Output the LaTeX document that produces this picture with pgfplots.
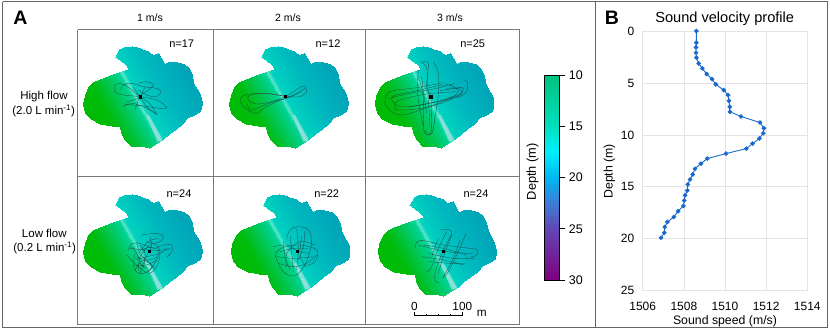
\documentclass[border=0pt]{standalone}
\usepackage{fontspec}
\setmainfont{Liberation Sans}
\usepackage{pgfplots}
\usepackage{pgfplotstable}
\pgfplotsset{compat=1.18}
\definecolor{trk}{RGB}{35,60,60}
\definecolor{framedark}{RGB}{100,100,100}
\definecolor{framegrid}{RGB}{120,120,120}
\definecolor{gridlt}{RGB}{228,228,228}
\pgfplotstableread[row sep=\\]{
x y\\
430 300\\385 208\\400 205\\
430 300\\400 205\\470 205\\
430 300\\470 205\\492 192\\
430 300\\492 192\\505 186\\
430 300\\505 186\\530 186\\
430 300\\530 186\\552 192\\
430 300\\552 192\\566 205\\
430 300\\566 205\\576 225\\
430 300\\576 225\\580 250\\
430 300\\580 250\\590 268\\
430 300\\590 268\\600 285\\
430 300\\600 285\\606 310\\
430 300\\606 310\\601 333\\
430 300\\601 333\\582 344\\
430 300\\582 344\\562 354\\
430 300\\562 354\\547 372\\
430 300\\547 372\\527 386\\
430 300\\527 386\\510 400\\
430 300\\510 400\\490 418\\
430 300\\490 418\\470 428\\
430 300\\470 428\\447 444\\
430 300\\447 444\\420 438\\
430 300\\420 438\\392 438\\
430 300\\392 438\\375 420\\
430 300\\375 420\\364 400\\
430 300\\364 400\\361 378\\
430 300\\361 378\\335 378\\
430 300\\335 378\\300 372\\
430 300\\300 372\\272 358\\
430 300\\272 358\\256 338\\
430 300\\256 338\\250 312\\
430 300\\250 312\\254 285\\
430 300\\254 285\\265 262\\
430 300\\265 262\\280 246\\
430 300\\280 246\\300 236\\
430 300\\300 236\\340 222\\
430 300\\340 222\\385 208\\
420 180\\345 172\\352 160\\
420 180\\352 160\\358 148\\
420 180\\358 148\\372 140\\
420 180\\372 140\\395 138\\
420 180\\395 138\\410 142\\
420 180\\410 142\\425 146\\
420 180\\425 146\\445 152\\
420 180\\445 152\\462 168\\
420 180\\462 168\\475 160\\
420 180\\475 160\\483 175\\
420 180\\483 175\\492 192\\
420 180\\492 192\\470 205\\
420 180\\470 205\\385 205\\
420 180\\385 205\\378 195\\
420 180\\378 195\\362 183\\
420 180\\362 183\\345 172\\
}\blobverts
\pgfplotstableread{
v d
1508.61 0
1508.61 1.13
1508.59 1.58
1508.59 2.09
1508.61 2.57
1508.72 3.12
1508.90 3.6
1509.11 4.15
1509.37 4.63
1509.55 5.14
1509.94 5.69
1510.15 6.17
1510.19 6.72
1510.23 7.3
1510.24 7.78
1510.78 8.23
1511.70 8.81
1511.89 9.36
1511.86 9.84
1511.67 10.35
1511.34 10.84
1511.04 11.32
1510.05 11.8
1509.14 12.28
1508.83 12.77
1508.54 13.26
1508.43 13.81
1508.30 14.29
1508.19 14.77
1508.17 15.35
1508.06 15.81
1508.02 16.32
1507.98 16.84
1507.72 17.35
1507.51 17.9
1507.20 18.39
1507.07 18.87
1507.05 19.42
1506.89 19.9
}\svp
\newcommand{\blob}[2]{\addplot[patch,patch type=triangle,shader=interp,forget plot,
  point meta={0.872*(\thisrow{x}-428)-0.49*(\thisrow{y}-300)}]
  table[x expr=\thisrow{x}+#1,y expr=\thisrow{y}+#2]{\blobverts};
  \addplot[fill={rgb,255:red,205;green,225;blue,238},draw=none,opacity=0.5,no markers,forget plot]
  table[row sep=\\,header=false,x expr=\thisrowno{0}+#1,y expr=\thisrowno{1}+#2]{440 345\\447 345\\488 418\\472 426\\};}
\newcommand{\trk}[3]{\addplot[trk,line width=0.33bp,opacity=0.85,smooth,tension=0.6,no markers,forget plot]
  table[row sep=\\,header=false,x expr=\thisrowno{0}+#1,y expr=\thisrowno{1}+#2]{#3};}
\newcommand{\ctr}[2]{\addplot[only marks,mark=square*,mark size=1.25bp,black,forget plot] coordinates {(#1,#2)};}
\newcommand{\seg}[2]{\addplot[#1,no markers,forget plot] coordinates {#2};}
\begin{document}
\begin{tikzpicture}
\path[use as bounding box] (0,0) rectangle (830bp,330bp);
\begin{axis}[name=main,at={(0,0)},anchor=south west,scale only axis,width=830bp,height=330bp,
  hide axis,clip=false,xmin=0,xmax=2490,ymin=0,ymax=990,y dir=reverse,
  point meta min=-180,point meta max=180,
  colormap={blob}{rgb255(0pt)=(0,186,0); rgb255(70pt)=(0,188,12); rgb255(100pt)=(0,194,55);
    rgb255(144pt)=(0,206,125); rgb255(158pt)=(0,212,155); rgb255(166pt)=(90,230,200);
    rgb255(176pt)=(0,210,192); rgb255(250pt)=(0,183,190); rgb255(330pt)=(0,166,184); rgb255(360pt)=(0,163,182)},
  colormap name=blob]
% maps
\blob{0}{0}
\blob{438}{0}
\blob{875}{0}
\blob{0}{444}
\blob{443}{444}
\blob{883}{444}
% panel 1
\trk{0}{0}{345 255\\360 250\\385 262\\420 290\\450 312\\470 342\\}
\trk{0}{0}{345 255\\345 275\\370 285\\420 290\\470 300\\500 322\\480 325\\430 318\\370 312\\}
\trk{0}{0}{362 270\\370 255\\395 250\\430 260\\470 265\\482 275\\470 290\\440 285\\415 270\\}
\trk{0}{0}{415 250\\440 245\\460 255\\445 270\\420 290\\405 330\\}
\trk{0}{0}{400 262\\420 290\\440 320\\468 342\\}
\trk{0}{0}{370 320\\400 310\\450 330\\472 345\\}
\trk{0}{0}{435 260\\420 290\\400 300\\380 305\\}
\ctr{420}{290}
% panel 2
\trk{0}{0}{920 275\\915 258\\895 265\\860 288\\815 305\\770 312\\745 300\\750 285\\790 280\\830 285\\856 289\\900 290\\920 275\\}
\trk{0}{0}{720 305\\725 290\\750 282\\800 280\\856 289\\}
\trk{0}{0}{722 305\\735 325\\770 340\\790 325\\830 305\\880 285\\915 265\\}
\trk{0}{0}{740 310\\750 330\\770 325\\820 305\\860 295\\905 275\\}
\ctr{856}{289}
% panel 3
\trk{1080}{60}{250 188\\170 203\\100 212\\80 225\\75 250\\95 275\\130 285\\180 270\\260 240\\300 225\\310 205\\295 203\\260 205\\}
\trk{1080}{60}{290 215\\200 222\\120 240\\105 255\\115 270\\200 262\\280 235\\305 215\\290 205\\240 212\\}
\trk{1080}{60}{145 262\\230 245\\290 225\\}
\trk{1080}{60}{105 225\\170 212\\250 195\\280 200\\295 215\\270 235\\180 255\\120 260\\95 240\\105 225\\}
\trk{1080}{60}{310 180\\322 185\\320 215\\290 235\\}
\trk{1080}{60}{190 125\\205 130\\200 200\\212 230\\215 300\\212 340\\195 340\\190 310\\190 230\\175 170\\}
\trk{1080}{60}{220 125\\235 160\\235 220\\225 290\\218 335\\205 345\\195 330\\}
\trk{1080}{60}{175 150\\172 210\\180 270\\190 320\\}
\trk{1080}{60}{180 125\\200 145\\205 230\\210 320\\}
\trk{1080}{60}{185 170\\190 215\\200 280\\}
\trk{1080}{60}{85 235\\150 220\\230 205\\285 190\\}
\ctr{1292}{290}
% panel 4
\trk{0}{510}{385 240\\395 222\\420 220\\460 235\\490 225\\515 225\\515 245\\500 262\\}
\trk{0}{510}{380 255\\410 285\\445 310\\470 290\\480 250\\470 225\\440 215\\}
\trk{0}{510}{405 250\\400 290\\420 310\\450 300\\475 260\\}
\trk{0}{510}{425 195\\470 190\\490 200\\480 215\\450 225\\420 260\\415 300\\}
\trk{0}{510}{450 200\\455 230\\447 243\\430 280\\420 310\\}
\trk{0}{510}{390 235\\440 240\\490 240\\510 235\\}
\trk{0}{510}{405 270\\440 260\\480 250\\500 235\\}
\trk{0}{510}{410 215\\420 250\\450 280\\465 295\\}
\trk{0}{510}{400 285\\440 285\\470 270\\}
\trk{0}{510}{415 250\\445 215\\475 205\\}
\trk{0}{510}{410 260\\440 270\\470 262\\475 240\\450 232\\425 240\\}
\trk{0}{510}{405 300\\430 270\\455 290\\440 305\\}
\trk{0}{510}{395 230\\410 250\\425 285\\445 295\\}
\trk{0}{510}{420 225\\435 250\\430 295\\}
\ctr{447}{753}
% panel 5
\trk{0}{510}{860 205\\870 180\\895 170\\925 180\\935 215\\925 260\\905 300\\880 318\\850 305\\830 270\\828 250\\850 232\\900 225\\950 240\\945 275\\910 290\\}
\trk{0}{510}{820 230\\860 225\\892 243\\930 250\\}
\trk{0}{510}{850 215\\855 260\\870 300\\}
\trk{0}{510}{890 175\\895 240\\890 300\\}
\trk{0}{510}{915 180\\910 230\\895 270\\}
\trk{0}{510}{830 260\\880 265\\940 260\\}
\trk{0}{510}{835 280\\880 290\\920 280\\950 255\\}
\trk{0}{510}{860 290\\860 250\\900 215\\945 225\\}
\trk{0}{510}{870 195\\875 245\\880 305\\}
\trk{0}{510}{840 245\\880 235\\925 235\\}
\trk{0}{510}{905 200\\900 255\\915 285\\}
\ctr{892}{753}
% panel 6
\trk{1080}{510}{165 235\\170 218\\190 212\\250 225\\330 235\\352 240\\350 255\\330 262\\}
\trk{1080}{510}{190 225\\250 235\\320 255\\}
\trk{1080}{510}{185 260\\250 270\\310 285\\}
\trk{1080}{510}{205 250\\280 265\\340 265\\}
\trk{1080}{510}{175 225\\260 245\\335 250\\}
\trk{1080}{510}{205 275\\270 280\\320 282\\}
\trk{1080}{510}{240 180\\260 178\\275 190\\250 240\\225 310\\228 335\\238 338\\}
\trk{1080}{510}{318 190\\295 245\\265 305\\248 325\\}
\trk{1080}{510}{260 185\\235 235\\215 290\\200 305\\}
\trk{1080}{510}{300 210\\280 265\\250 320\\}
\trk{1080}{510}{275 195\\250 260\\235 310\\}
\trk{1080}{510}{235 205\\215 260\\}
\ctr{1330}{753}
% frames
\seg{framedark,line width=1.3bp}{(8,5)(8,982)(2483,982)(2483,5)(8,5)}
\seg{framedark,line width=1.3bp}{(1786,5)(1786,982)}
\seg{framegrid,line width=1bp}{(233,89)(1558,89)(1558,972)(233,972)(233,89)}
\seg{framegrid,line width=1bp}{(641,89)(641,972)}
\seg{framegrid,line width=1bp}{(1097,89)(1097,972)}
\seg{framegrid,line width=1bp}{(233,530)(1558,530)}
% scale bar
\seg{black,line width=0.6bp}{(1243,947)(1387,947)}
\seg{black,line width=0.6bp}{(1243,947)(1243,937)}
\seg{black,line width=0.6bp}{(1280,947)(1280,941)}
\seg{black,line width=0.6bp}{(1315,947)(1315,941)}
\seg{black,line width=0.6bp}{(1352,947)(1352,941)}
\seg{black,line width=0.6bp}{(1387,947)(1387,937)}
% text
\node[font=\fontsize{19.5bp}{20bp}\selectfont\bfseries] at (axis cs:61,52) {A};
\node[font=\fontsize{19.5bp}{20bp}\selectfont\bfseries] at (axis cs:1836,52) {B};
\begin{scope}[every node/.style={font=\fontsize{10.5bp}{12bp}\selectfont}]
\node at (axis cs:450,52) {1 m/s};
\node at (axis cs:864,52) {2 m/s};
\node at (axis cs:1350,52) {3 m/s};
\end{scope}
\begin{scope}[every node/.style={font=\fontsize{11bp}{12bp}\selectfont}]
\node at (axis cs:545,131) {n=17};
\node at (axis cs:984,131) {n=12};
\node at (axis cs:1418,130) {n=25};
\node at (axis cs:537,582) {n=24};
\node at (axis cs:980,582) {n=22};
\node at (axis cs:1428,582) {n=24};
\end{scope}
\begin{scope}[every node/.style={font=\fontsize{11.5bp}{12bp}\selectfont}]
\node at (axis cs:132,290) {High flow};
\node at (axis cs:131,333) {(2.0 L min\textsuperscript{-1})};
\node at (axis cs:133,700) {Low flow};
\node at (axis cs:134,743) {(0.2 L min\textsuperscript{-1})};
\end{scope}
\begin{scope}[every node/.style={font=\fontsize{11.8bp}{12bp}\selectfont}]
\node at (axis cs:1243,920) {0};
\node at (axis cs:1387,920) {100};
\node at (axis cs:1445,940) {m};
\end{scope}
\node[rotate=90,font=\fontsize{12.8bp}{13bp}\selectfont] at (axis cs:1598,515) {Depth (m)};
\node[font=\fontsize{14.6bp}{15bp}\selectfont] at (axis cs:2174,55) {Sound velocity profile};
\end{axis}
% colour scale
\begin{axis}[at={(544.3bp,50bp)},anchor=south west,scale only axis,width=15bp,height=205bp,
  xmin=0,xmax=1,ymin=10,ymax=30,y dir=reverse,axis on top,
  xtick=\empty,ytick={10,15,20,25,30},yticklabel pos=right,
  ytick align=outside,ytick pos=right,
  tick style={black,line width=0.6bp},major tick length=6bp,
  axis line style={black,line width=0.8bp},
  tick label style={font=\fontsize{12.5bp}{13bp}\selectfont},
  /pgf/number format/assume math mode=true,
  point meta min=10,point meta max=30,
  colormap={depth}{rgb255(0pt)=(0,195,125); rgb255(5pt)=(0,222,190); rgb255(7.5pt)=(0,240,255);
    rgb255(10pt)=(0,182,240); rgb255(12.5pt)=(60,125,215); rgb255(15pt)=(100,70,180); rgb255(20pt)=(125,0,125)},
  colormap name=depth]
\addplot[patch,patch type=rectangle,shader=interp,point meta=y] coordinates {(0,10)(1,10)(1,15)(0,15)};
\addplot[patch,patch type=rectangle,shader=interp,point meta=y] coordinates {(0,15)(1,15)(1,17.5)(0,17.5)};
\addplot[patch,patch type=rectangle,shader=interp,point meta=y] coordinates {(0,17.5)(1,17.5)(1,20)(0,20)};
\addplot[patch,patch type=rectangle,shader=interp,point meta=y] coordinates {(0,20)(1,20)(1,22.5)(0,22.5)};
\addplot[patch,patch type=rectangle,shader=interp,point meta=y] coordinates {(0,22.5)(1,22.5)(1,25)(0,25)};
\addplot[patch,patch type=rectangle,shader=interp,point meta=y] coordinates {(0,25)(1,25)(1,30)(0,30)};
\end{axis}
% sound velocity profile
\begin{axis}[at={(642.7bp,39.3bp)},anchor=south west,scale only axis,width=164.6bp,height=259.7bp,
  xmin=1506,xmax=1514,ymin=0,ymax=25,y dir=reverse,
  xtick={1506,1508,...,1514},ytick={0,5,...,25},
  grid=major,grid style={gridlt,line width=0.7bp},
  axis line style={gridlt,line width=0.7bp},
  tick style={draw=none},
  /pgf/number format/1000 sep={},
  /pgf/number format/assume math mode=true,
  tick label style={font=\fontsize{12bp}{13bp}\selectfont},
  xticklabel style={yshift=-8bp},yticklabel style={xshift=-5bp},
  xlabel={Sound speed (m/s)},ylabel={Depth (m)},
  label style={font=\fontsize{12.3bp}{13bp}\selectfont},
  xlabel style={at={(axis description cs:0.5,0)},anchor=north,yshift=-21bp},
  ylabel style={at={(axis description cs:0,0.46)},anchor=south,yshift=24bp}]
\addplot[color={rgb,255:red,25;green,105;blue,205},line width=0.9bp,mark=*,mark size=1.8bp] table[x=v,y=d]{\svp};
\end{axis}
\end{tikzpicture}
\end{document}
